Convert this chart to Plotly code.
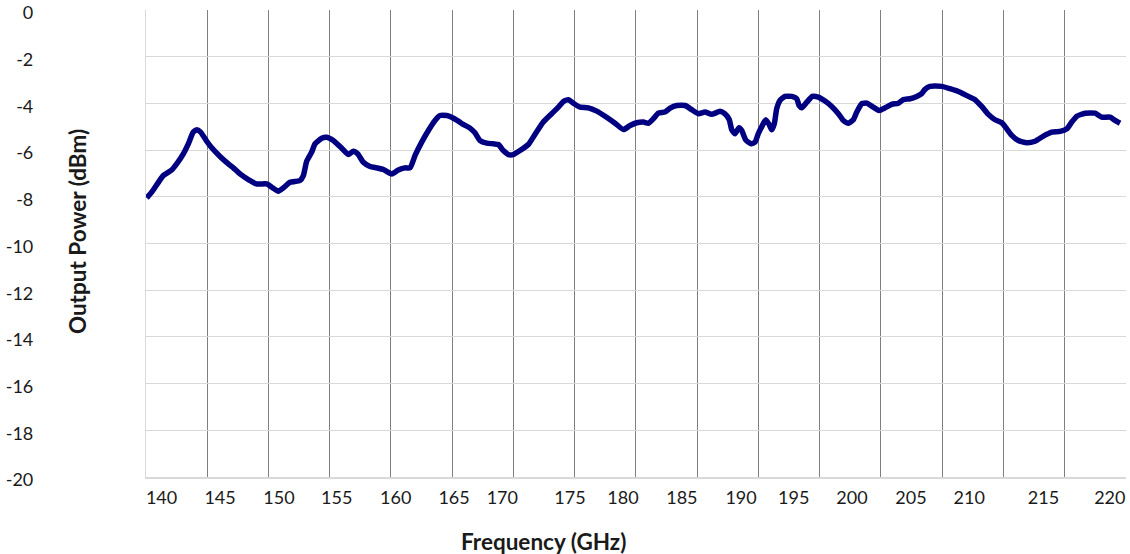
import numpy as np
import plotly.graph_objects as go

# ---- data ----
freq_ghz = [138.74, 139.16, 139.72, 140.14, 140.84, 141.26, 141.82, 142.24, 142.66, 142.95,
            143.28, 143.79, 144.21, 144.91, 145.61, 146.03, 146.59, 147.29, 148.00, 148.84,
            149.26, 149.81, 150.23, 150.80, 151.64, 151.92, 152.20, 152.62, 152.90, 153.47,
            153.89, 154.44, 155.15, 155.70, 156.12, 156.49, 156.97, 157.53, 158.09, 158.65,
            159.36, 159.91, 160.47, 160.90, 161.32, 161.88, 162.44, 163.00, 163.42, 163.98,
            164.40, 164.96, 165.38, 165.94, 166.36, 166.79, 167.35, 167.91, 168.33, 168.75,
            169.17, 169.59, 170.15, 170.85, 171.41, 172.11, 172.82, 173.38, 173.80, 174.22,
            174.64, 175.20, 175.90, 176.61, 177.31, 178.15, 178.85, 179.41, 179.97, 180.53,
            180.95, 181.37, 181.79, 182.35, 182.78, 183.34, 184.04, 184.60, 185.16, 185.72,
            186.28, 186.98, 187.40, 187.76, 187.97, 188.24, 188.58, 188.81, 189.14, 189.59,
            189.93, 190.20, 190.54, 190.83, 191.11, 191.33, 191.55, 191.75, 192.03, 192.45,
            193.02, 193.44, 193.63, 193.86, 194.28, 194.75, 195.25, 195.82, 196.38, 196.94,
            197.36, 197.78, 198.20, 198.49, 198.91, 199.33, 199.88, 200.36, 200.87, 201.43,
            201.99, 202.41, 202.97, 203.53, 203.95, 204.23, 204.65, 205.64, 206.33, 207.18,
            207.87, 208.44, 209.00, 209.56, 210.12, 210.69, 211.11, 211.53, 212.08, 212.79,
            213.49, 214.19, 214.89, 215.59, 216.16, 216.58, 217.00, 217.70, 218.54, 219.10,
            219.80, 220.22, 220.64]
power_dbm = [-8.05, -7.80, -7.38, -7.09, -6.85, -6.59, -6.16, -5.73, -5.23, -5.13,
             -5.23, -5.62, -5.90, -6.27, -6.59, -6.76, -7.02, -7.26, -7.45, -7.45,
             -7.59, -7.76, -7.62, -7.38, -7.30, -7.09, -6.48, -6.09, -5.73, -5.49,
             -5.45, -5.59, -5.92, -6.19, -6.05, -6.16, -6.52, -6.70, -6.76, -6.83,
             -7.02, -6.85, -6.76, -6.76, -6.23, -5.66, -5.16, -4.73, -4.52, -4.52,
             -4.59, -4.76, -4.90, -5.06, -5.26, -5.59, -5.70, -5.73, -5.76, -6.02,
             -6.19, -6.19, -6.02, -5.76, -5.33, -4.80, -4.44, -4.16, -3.92, -3.84,
             -3.99, -4.16, -4.19, -4.33, -4.55, -4.85, -5.12, -4.95, -4.83, -4.80,
             -4.85, -4.66, -4.42, -4.37, -4.20, -4.09, -4.09, -4.27, -4.44, -4.37,
             -4.47, -4.34, -4.45, -4.70, -5.13, -5.30, -5.04, -5.16, -5.56, -5.73,
             -5.66, -5.30, -4.95, -4.70, -4.90, -5.13, -4.87, -4.23, -3.87, -3.70,
             -3.70, -3.80, -4.09, -4.19, -3.95, -3.70, -3.73, -3.90, -4.13, -4.44,
             -4.73, -4.85, -4.70, -4.37, -4.01, -3.99, -4.16, -4.30, -4.19, -4.04,
             -3.99, -3.84, -3.80, -3.70, -3.58, -3.40, -3.27, -3.27, -3.37, -3.52,
             -3.70, -3.84, -4.13, -4.47, -4.70, -4.83, -5.09, -5.37, -5.59, -5.69,
             -5.62, -5.40, -5.23, -5.20, -5.09, -4.80, -4.55, -4.42, -4.42, -4.59,
             -4.59, -4.73, -4.85]

x_tick_labels = ["140", "145", "150", "155", "160", "165", "170", "175", "180", "185",
                 "190", "195", "200", "205", "210", "215", "220"]
x_tick_positions = [139.99, 144.91, 149.87, 154.73, 159.69, 164.60, 168.66, 174.36, 178.82,
                    183.77, 188.75, 193.18, 198.08, 203.05, 207.95, 214.20, 219.78]
y_tick_values = [0, -2, -4, -6, -8, -10, -12, -14, -16, -18, -20]
y_tick_labels = ["0", "-2", "-4", "-6", "-8", "-10", "-12", "-14", "-16", "-18", "-20"]

x_min, x_max = 138.68, 221.14
grid_positions = list(np.linspace(x_min, x_max, 17)[1:])

FONT = "Lato"
TXT = "#1a1a1a"

fig = go.Figure()
fig.add_trace(go.Scatter(
    x=freq_ghz, y=power_dbm, mode="lines",
    line=dict(color="#000080", width=5.5, shape="spline", smoothing=0.5),
    xaxis="x", yaxis="y", showlegend=False, hoverinfo="skip", cliponaxis=False))
# invisible trace to activate the label axis
fig.add_trace(go.Scatter(x=[x_min], y=[-20], mode="markers", marker=dict(opacity=0),
                         xaxis="x2", yaxis="y", showlegend=False, hoverinfo="skip"))

fig.update_layout(
    width=1130, height=554,
    margin=dict(l=146, r=4, t=10, b=77),
    paper_bgcolor="white", plot_bgcolor="white",
    font=dict(family=FONT, size=18, color=TXT),
    xaxis=dict(range=[x_min, x_max + 0.002], tickvals=grid_positions, showticklabels=False,
               showgrid=True, gridcolor="#7f7f7f", gridwidth=1, zeroline=False,
               showline=True, linecolor="#d9d9d9", linewidth=1.5, ticks="",
               automargin=False),
    xaxis2=dict(range=[x_min, x_max + 0.002], overlaying="x", anchor="y", side="bottom",
                tickvals=x_tick_positions, ticktext=x_tick_labels, showgrid=False,
                zeroline=False, showline=False, ticks="", ticklabelstandoff=8,
                automargin=False, ticklabeloverflow="allow",
                tickfont=dict(family=FONT, size=18, color=TXT)),
    yaxis=dict(range=[-20, 0], tickvals=y_tick_values, ticktext=y_tick_labels,
               showgrid=True, gridcolor="#d9d9d9", gridwidth=1.2, zeroline=False,
               showline=True, linecolor="#d9d9d9", linewidth=1.2, ticks="",
               automargin=False, ticklabelstandoff=108, ticklabelshift=3,
               ticklabeloverflow="allow",
               tickfont=dict(family=FONT, size=18, color=TXT)),
    annotations=[
        dict(text="<b>Output Power (dBm)</b>", xref="paper", yref="paper",
             x=-0.0704, y=0.5244, xanchor="center", yanchor="middle", textangle=-90,
             showarrow=False, font=dict(family=FONT, size=22.5, color=TXT)),
        dict(text="<b>Frequency (GHz)</b>", xref="paper", yref="paper",
             x=0.4056, y=-0.1382, xanchor="center", yanchor="middle",
             showarrow=False, font=dict(family=FONT, size=22.5, color=TXT)),
    ],
)

fig.write_html("out.html", config={"displayModeBar": False},
               post_script="document.body.style.margin='0';")
